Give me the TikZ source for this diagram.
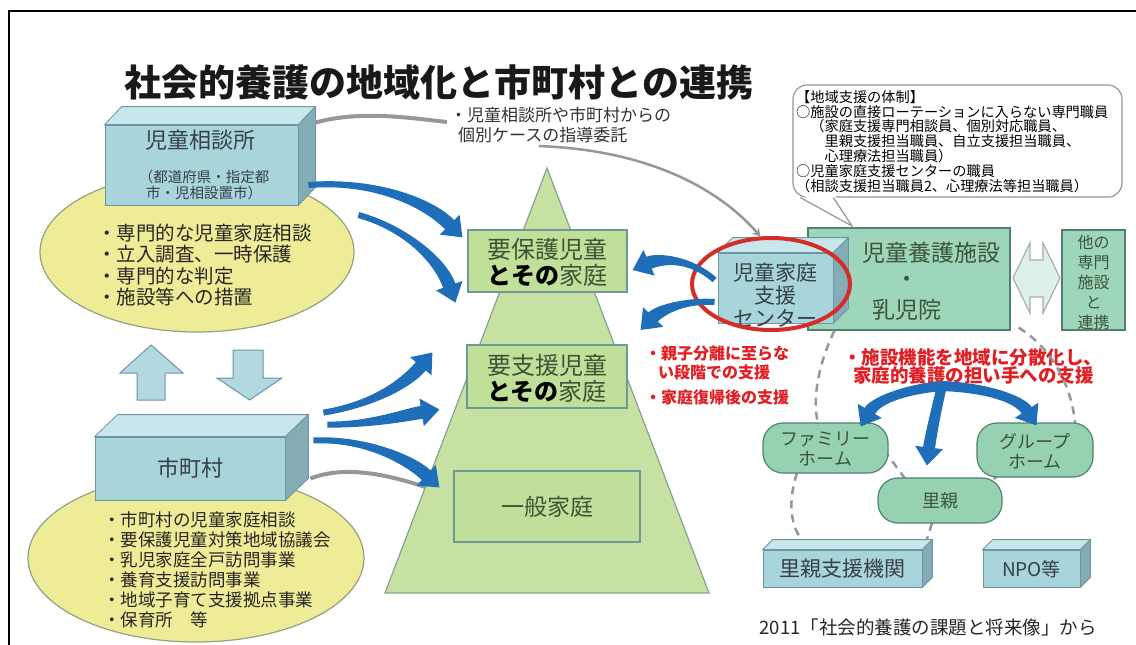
\documentclass[tikz,border=0pt]{standalone}
\usepackage{fontspec}
\setmainfont{Noto Sans CJK JP}
\usetikzlibrary{arrows.meta,shapes.geometric,calc}
\definecolor{boxfront}{RGB}{168,212,220}
\definecolor{boxtop}{RGB}{200,231,236}
\definecolor{boxside}{RGB}{132,172,182}
\definecolor{boxline}{RGB}{110,150,160}
\definecolor{yfill}{RGB}{238,236,150}
\definecolor{yline}{RGB}{150,160,130}
\definecolor{pyrfill}{RGB}{198,225,162}
\definecolor{pyrline}{RGB}{130,165,140}
\definecolor{pboxfill}{RGB}{192,223,152}
\definecolor{pboxline}{RGB}{112,152,150}
\definecolor{mint}{RGB}{158,214,188}
\definecolor{mintline}{RGB}{80,130,110}
\definecolor{homefill}{RGB}{150,210,178}
\definecolor{arblue}{RGB}{30,110,185}
\definecolor{redtxt}{RGB}{225,30,35}
\definecolor{ringred}{RGB}{212,45,40}
\definecolor{grayln}{RGB}{145,152,158}
\definecolor{txtgreen}{RGB}{60,85,55}
\definecolor{txtdark}{RGB}{55,65,70}
\definecolor{udfill}{RGB}{178,216,226}
\newcommand\fsz[2]{\fontsize{#1}{#2}\selectfont}
\newcommand\boxfaces[3]{%
  \draw[boxline,line width=0.8pt,fill=boxtop] (#1.north west) -- ++(#2,-#3) -- ($(#1.north east)+(#2,-#3)$) -- (#1.north east) -- cycle;
  \draw[boxline,line width=0.8pt,fill=boxside] (#1.north east) -- ++(#2,-#3) -- ($(#1.south east)+(#2,-#3)$) -- (#1.south east) -- cycle;}
% tapered arrow: #1 start, #2 ctrl1, #3 ctrl2, #4 tip, #5 start half width, #6 end half width
\newcommand\taparrow[6]{%
  \coordinate (tB) at ($(#4)!18pt!(#3)$);
  \fill[arblue] ($(#1)!#5pt!90:(#2)$) .. controls ($(#2)!#5pt!-90:(#1)$) and ($(#3)!#6pt!90:(tB)$) .. ($(tB)!#6pt!-90:(#3)$)
    -- ($(tB)!14pt!-90:(#3)$) -- (#4) -- ($(tB)!14pt!90:(#3)$) -- ($(tB)!#6pt!90:(#3)$)
    .. controls ($(#3)!#6pt!-90:(tB)$) and ($(#2)!#5pt!90:(#1)$) .. ($(#1)!#5pt!-90:(#2)$) -- cycle;}
\begin{document}
\begin{tikzpicture}[x=1pt,y=-1pt,
  frontbox/.style={draw=boxline,fill=boxfront,line width=0.8pt,inner sep=0pt},
  pyrbox/.style={draw=pboxline,fill=pboxfill,line width=1.2pt,inner sep=0pt},
  homebox/.style={draw=mintline,fill=homefill,line width=1.2pt,rounded corners=20pt,inner sep=0pt},
  yell/.style={ellipse,draw=yline,fill=yfill,line width=1.2pt,inner sep=0pt},
  gline/.style={draw=grayln,line width=4pt},
  dsh/.style={draw=grayln,line width=2.5pt,dash pattern=on 8pt off 6pt},
  udarr/.style={draw=boxline,fill=udfill,line width=1pt},
  txt/.style={inner sep=0pt,text=txtdark},
  redt/.style={inner sep=0pt,text=redtxt,font=\bfseries\fsz{16}{18}}]
\useasboundingbox (0,0) rectangle (1136,645);
\fill[white] (0,0) rectangle (1136,645);
\draw[line width=2pt,black] (9,645) -- (9,11) -- (1136,11);

% yellow ellipses
\node[yell,minimum width=314pt,minimum height=160pt] (e1) at (197,252) {};
\node[yell,minimum width=336pt,minimum height=168pt] (e2) at (196,558) {};

% box 1
\node[frontbox,minimum width=193pt,minimum height=80pt] (jido) at (201.5,165) {};
\boxfaces{jido}{17}{18}
\node[txt,font=\fsz{22}{24}] (jidoT) at (200,140) {児童相談所};
\node[txt,font=\fsz{14.5}{16},align=center] (jidoS) at (204,185) {（都道府県・指定都\\市・児相設置市）};
\node[txt,anchor=west,align=left,font=\fsz{19.5}{21.3},text=black!85] (e1T) at (97,265) {・専門的な児童家庭相談\\・立入調査、一時保護\\・専門的な判定\\・施設等への措置};

% up/down arrows
\draw[udarr] (137,400) -- (137,373) -- (120,373) -- (151,345) -- (183,373) -- (165,373) -- (165,400) -- cycle;
\draw[udarr] (233,350) -- (263,350) -- (263,378) -- (282,378) -- (249.5,400) -- (217,378) -- (233,378) -- cycle;

% box 2
\node[frontbox,minimum width=190pt,minimum height=63pt] (shi) at (190,468.5) {};
\boxfaces{shi}{23}{22}
\node[txt,font=\fsz{22}{24}] (shiT) at (190,468) {市町村};
\node[txt,anchor=west,align=left,font=\fsz{17.5}{20},text=black!85] (e2T) at (103,570) {・市町村の児童家庭相談\\・要保護児童対策地域協議会\\・乳児家庭全戸訪問事業\\・養育支援訪問事業\\・地域子育て支援拠点事業\\・保育所　等};

% note text
\node[txt,anchor=west,font=\fsz{17}{19},text=black!80] (note1) at (450,115) {・児童相談所や市町村からの};
\node[txt,anchor=west,font=\fsz{17}{19},text=black!80] (note2) at (458,135) {個別ケースの指導委託};

% gray lines
\draw[gline] ($(jido.north east)+(17,-2)$) .. controls (360,110) and (410,118) .. ($(note1.west)+(-3,7)$);
\draw[gline] ($(shi.east)+(25,10)$) .. controls (350,463) and (400,478) .. (440,492);

% pyramid
\draw[draw=pyrline,fill=pyrfill,line width=1.2pt] (547,168) -- (709,593) -- (385,593) -- cycle;
\node[pyrbox,minimum width=159pt,minimum height=62pt] (yh) at (547.5,261) {};
\node[inner sep=0pt,text=txtgreen,font=\fsz{24}{26},align=center] (yhT) at (547.5,262) {要保護児童\\{\bfseries\color{black}とその}家庭};
\node[pyrbox,minimum width=160pt,minimum height=63pt] (ys) at (547,376.5) {};
\node[inner sep=0pt,text=txtgreen,font=\fsz{24}{26},align=center] (ysT) at (547,378) {要支援児童\\{\bfseries\color{black}とその}家庭};
\node[pyrbox,minimum width=186pt,minimum height=71pt] (ip) at (547,506.5) {};
\node[inner sep=0pt,text=txtgreen,font=\fsz{23}{25}] (ipT) at (547,507) {一般家庭};

% blue arrows left
\coordinate (a0) at ($(jido.east)+(10,20)$);
\coordinate (a1) at ($(yh.north west)+(-5,8)$);
\taparrow{a0}{370,180}{425,200}{a1}{3}{6.5}
\coordinate (b0) at ($(jido.east)+(60,50)$);
\coordinate (b1) at ($(yh.south west)+(-12,10)$);
\taparrow{b0}{405,228}{440,260}{b1}{3}{6.5}
\coordinate (c0) at ($(shi.north east)+(38,-24)$);
\coordinate (c1) at ($(ys.west)+(-34,-24)$);
\taparrow{c0}{370,405}{405,385}{c1}{3}{6.5}
\coordinate (d0) at ($(shi.north east)+(42,-12)$);
\coordinate (d1) at ($(ys.west)+(-27,33)$);
\taparrow{d0}{370,425}{405,415}{d1}{3}{6.5}
\coordinate (f0) at ($(shi.east)+(28,-28)$);
\coordinate (f1) at ($(ip.west)+(-14,-19)$);
\taparrow{f0}{365,438}{410,460}{f1}{3}{6.5}

% facility boxes
\node[draw=mintline,fill=mint,line width=1.2pt,minimum width=202pt,minimum height=102pt,inner sep=0pt] (yogo) at (909,279) {};
\node[inner sep=0pt,text=txtgreen,font=\fsz{23}{25}] (yogoT1) at (931,253) {児童養護施設};
\node[inner sep=0pt,text=txtgreen,font=\fsz{23}{25}] (yogoT2) at (907,282) {・};
\node[inner sep=0pt,text=txtgreen,font=\fsz{23}{25}] (yogoT3) at (907,310) {乳児院};
\node[frontbox,minimum width=115pt,minimum height=70pt] (ctr) at (775.5,288) {};
\boxfaces{ctr}{15}{15}
\node[txt,align=center,font=\fsz{21}{23}] (ctrT) at (775.5,295) {児童家庭\\支援\\センター};
\node[ellipse,draw=ringred,line width=4pt,minimum width=158pt,minimum height=92pt,inner sep=0pt] (ring) at (771,284) {};
\draw[draw=grayln!80,fill=mint!35,line width=1.2pt] (1013,278) -- (1030,243) -- (1030,260) -- (1043,260) -- (1043,243) -- (1060,278) -- (1043,313) -- (1043,297) -- (1030,297) -- (1030,313) -- cycle;
\node[draw=mintline,fill=mint,line width=1.2pt,minimum width=63pt,minimum height=100pt,inner sep=0pt] (other) at (1093.5,280) {};
\node[inner sep=0pt,text=txtgreen,font=\fsz{16}{20},align=center] (otherT) at (1093.5,282) {他の\\専門\\施設\\と\\連携};

% callout
\node[draw=grayln,fill=white,line width=1.2pt,rounded corners=14pt,minimum width=329pt,minimum height=112pt,inner sep=0pt] (call) at (957.5,141) {};
\fill[white] (801,194) -- (834,194) -- (852,226) -- cycle;
\draw[grayln,line width=1.2pt] ($(call.south west)+(8,0)$) -- (852,226) -- ($(call.south west)+(41,0)$);
\node[anchor=north west,inner sep=0pt,align=left,font=\fsz{14.2}{14.8},text=black] (callT) at (796,90) {【地域支援の体制】\\○施設の直接ローテーションに入らない専門職員\\　（家庭支援専門相談員、個別対応職員、\\　　里親支援担当職員、自立支援担当職員、\\　　心理療法担当職員）\\○児童家庭支援センターの職員\\（相談支援担当職員2、心理療法等担当職員）};

% gray line note -> center
\draw[draw=grayln,line width=2.5pt,-{Stealth[width=9pt,length=8pt]}] ($(note2.south)+(-4,3)$) .. controls (650,150) and (720,190) .. ($(ctr.north)+(-15,-16)$);

% right blue arrows
\coordinate (g0) at ($(ctr.west)+(-3,-8)$);
\coordinate (g1) at ($(yh.east)+(5,9)$);
\taparrow{g0}{690,258}{660,258}{g1}{3}{6.5}
\coordinate (h0) at ($(ctr.west)+(-3,14)$);
\coordinate (h1) at ($(yh.east)+(13,69)$);
\taparrow{h0}{685,300}{660,310}{h1}{3}{6.5}

% red texts
\node[redt,anchor=west] (r1) at (645,353) {・親子分離に至らな};
\node[redt,anchor=west] (r2) at (658,372) {い段階での支援};
\node[redt,anchor=west] (r3) at (645,397) {・家庭復帰後の支援};
\node[redt,anchor=west,font=\bfseries\fsz{18.5}{20}] (r4) at (843,357) {・施設機能を地域に分散化し、};
\node[redt,anchor=west,font=\bfseries\fsz{18.5}{20}] (r5) at (853,375) {家庭的養護の担い手への支援};

% homes and dashed links
\draw[dsh] ($(yogo.south west)+(27,0)$) .. controls (818,365) and (812,400) .. (818,423);
\draw[dsh] ($(yogo.south east)+(8,-3)$) .. controls (1055,350) and (1072,390) .. (1075,423);
\draw[dsh] (884,450) -- (906,480);
\draw[dsh] (1000,474) -- (990,482);
\draw[dsh] (797,473) .. controls (788,500) and (790,525) .. (802,540);
\draw[dsh] (932,523) -- (926,542);
\node[homebox,minimum width=125pt,minimum height=50pt] (fam) at (825.5,448) {};
\node[inner sep=0pt,text=txtgreen,font=\fsz{18}{20},align=center] (famT) at (825.5,449) {ファミリー\\ホーム};
\node[homebox,minimum width=116pt,minimum height=54pt] (grp) at (1035,450) {};
\node[inner sep=0pt,text=txtgreen,font=\fsz{18}{20},align=center] (grpT) at (1035,451) {グループ\\ホーム};
\node[homebox,minimum width=124pt,minimum height=45pt] (sato) at (940,500.5) {};
\node[inner sep=0pt,text=txtgreen,font=\fsz{18}{20}] (satoT) at (940,501) {里親};

\coordinate (fan) at (942,386);
\coordinate (k1) at ($(fam.north east)+(-28,4)$);
\coordinate (k2) at ($(sato.north)+(-13,-12)$);
\coordinate (k3) at ($(grp.north west)+(60,3)$);
\taparrow{fan}{900,390}{875,402}{k1}{5}{6}
\taparrow{fan}{936,410}{930,440}{k2}{5}{6}
\taparrow{fan}{990,388}{1020,400}{k3}{5}{6}

% bottom boxes
\node[frontbox,minimum width=159pt,minimum height=37pt] (sien) at (842.5,568.5) {};
\boxfaces{sien}{10}{10}
\node[txt,font=\fsz{21}{23}] (sienT) at (842.5,569) {里親支援機関};
\node[frontbox,minimum width=97pt,minimum height=37pt] (npo) at (1031.5,568.5) {};
\boxfaces{npo}{10}{10}
\node[txt,font=\fsz{19}{21}] (npoT) at (1031.5,569) {NPO等};

\node[inner sep=0pt,text=black!85,font=\fsz{18.5}{20}] (cap) at (928,627) {2011「社会的養護の課題と将来像」から};

% title
\node[inner sep=0pt,text=black!90,font=\bfseries\fsz{37}{40}] (title) at (439,82) {社会的養護の地域化と市町村との連携};
\end{tikzpicture}
\end{document}
